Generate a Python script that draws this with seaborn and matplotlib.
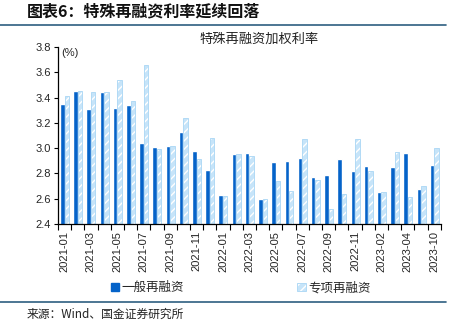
import matplotlib
matplotlib.use("Agg")
import matplotlib.pyplot as plt
import seaborn as sns
import pandas as pd
import numpy as np
from matplotlib.patches import Patch
from matplotlib.lines import Line2D

months = ["2021-01", "2021-02", "2021-03", "2021-04", "2021-05", "2021-06", "2021-07",
          "2021-08", "2021-09", "2021-10", "2021-11", "2021-12", "2022-01", "2022-02",
          "2022-03", "2022-04", "2022-05", "2022-06", "2022-07", "2022-08", "2022-09",
          "2022-10", "2022-11", "2022-12", "2023-02", "2023-03", "2023-04", "2023-06",
          "2023-10"]
general = [3.35, 3.45, 3.31, 3.44, 3.32, 3.34, 3.04, 3.01, 3.02, 3.13, 2.98, 2.83, 2.63, 2.95,
           2.96, 2.60, 2.89, 2.90, 2.92, 2.77, 2.79, 2.91, 2.82, 2.86, 2.65, 2.85, 2.96, 2.68,
           2.87]
special = [3.41, 3.45, 3.44, 3.44, 3.54, 3.37, 3.66, 2.99, 3.02, 3.24, 2.91, 3.08, 2.62, 2.95,
           2.94, 2.60, 2.74, 2.66, 3.07, 2.75, 2.52, 2.64, 3.07, 2.82, 2.65, 2.97, 2.61, 2.70,
           3.00]
series_names = ["一般再融资", "专项再融资"]

sns.set_theme(style="ticks")
plt.rcParams['font.family'] = ['Liberation Sans', 'Noto Sans CJK SC', 'DejaVu Sans']
plt.rcParams['hatch.linewidth'] = 1.0

df = pd.DataFrame({
    "month": months * 2,
    "value": general + special,
    "series": [series_names[0]] * len(months) + [series_names[1]] * len(months),
})

blue = "#0563C9"
light = "#C6E4F9"
light_edge = "#A9D6F5"

fig = plt.figure(figsize=(4.67, 3.26), dpi=100)
ax = fig.add_axes([0.124, 0.313, 0.82, 0.543])
sns.barplot(data=df, x="month", y="value", hue="series", order=months,
            hue_order=series_names, palette=[blue, light], width=0.68,
            saturation=1, legend=False, ax=ax, bottom=0)


def hatch_white(p):
    p.set_hatch("////")
    p.set_edgecolor(light_edge)
    p.set_linewidth(0.6)
    p._hatch_color = (1.0, 1.0, 1.0, 1.0)


for bar in ax.containers[1]:
    hatch_white(bar)

ax.set_ylim(2.4, 3.8)
ax.set_yticks(np.arange(2.4, 3.81, 0.2))
ax.set_yticklabels([f"{v:.1f}" for v in np.arange(2.4, 3.81, 0.2)], fontsize=8)
ax.set_xlim(-0.5, len(months) - 0.5)
ax.set_xticks(range(0, len(months), 2))
ax.set_xticklabels([months[i] for i in range(0, len(months), 2)], rotation=90, fontsize=8)
ax.set_xticks(np.arange(-0.5, len(months), 1), minor=True)
ax.tick_params(axis="x", which="major", length=0, pad=5)
ax.tick_params(axis="x", which="minor", length=4, width=0.8, color="black", direction="out")
ax.tick_params(axis="y", length=3, width=0.8, color="black", pad=2)
ax.set_xlabel("")
ax.set_ylabel("")
for s in ["top", "right"]:
    ax.spines[s].set_visible(False)
for s in ["left", "bottom"]:
    ax.spines[s].set_color("black")
    ax.spines[s].set_linewidth(0.9)

ax.text(0.01, 0.995, "(%)", transform=ax.transAxes, fontsize=8, va="top", ha="left")

cjk = ['Noto Sans CJK SC', 'DejaVu Sans']
fig.text(0.555, 0.878, "特殊再融资加权利率", fontsize=9.5, ha="center", va="center",
         family=cjk, color="#222222")
fig.text(0.058, 0.965, "图表6：特殊再融资利率延续回落", fontsize=11.5, fontweight="bold",
         ha="left", va="center", family=cjk, color="#111111", style="italic")
fig.add_artist(Line2D([0.0, 0.955], [0.922, 0.922], transform=fig.transFigure,
                      color="#2E5F80", lw=1.2))
fig.add_artist(Line2D([0.0, 0.955], [0.074, 0.074], transform=fig.transFigure,
                      color="#2E5F80", lw=1.2))
fig.text(0.058, 0.037, "来源：Wind、国金证券研究所", fontsize=8.5, ha="left", va="center",
         family=cjk, color="#222222")

h2 = Patch(facecolor=light, label=series_names[1])
hatch_white(h2)
handles = [Patch(facecolor=blue, edgecolor=blue, label=series_names[0]), h2]
leg = fig.legend(handles=handles, loc="center", bbox_to_anchor=(0.515, 0.117), ncol=2,
                 frameon=False, handlelength=0.7, handleheight=0.7, handletextpad=0.2,
                 columnspacing=9.0, prop={"family": cjk, "size": 9})
for lh in leg.legend_handles[1:]:
    hatch_white(lh)

fig.savefig("out.png", dpi=100)
